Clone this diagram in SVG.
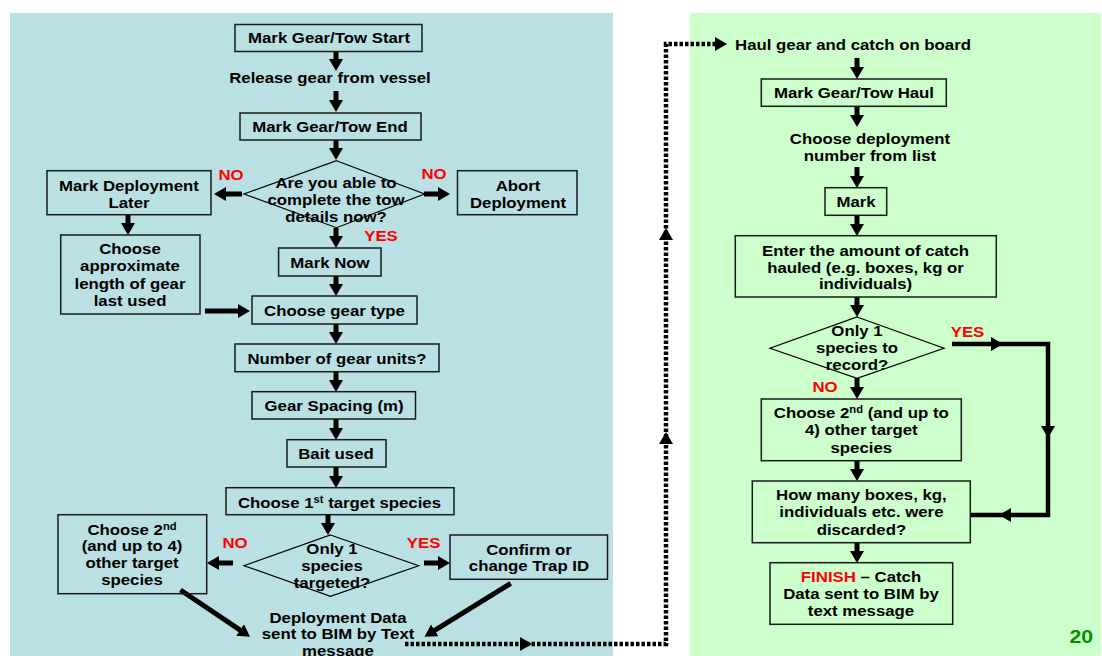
<svg xmlns="http://www.w3.org/2000/svg" xmlns:xlink="http://www.w3.org/1999/xlink" width="1102" height="656" viewBox="0 0 1102 656">
<style>
.t{font-family:"Liberation Sans",Arial,sans-serif;font-weight:bold;font-size:15px;fill:#000;text-anchor:middle}
.r{fill:#ff0000}
.g{fill:#009000;font-size:19px}
.box{fill:none;stroke:#1a1a1a;stroke-width:1.5}
.dia{fill:none;stroke:#000;stroke-width:1.2}
.arr{stroke:#000;stroke-width:5;fill:none;marker-end:url(#ah)}
.loop{stroke:#000;stroke-width:4.5;fill:none}
.dot{stroke:#000;stroke-width:4.5;stroke-dasharray:3.5 2;fill:none}
.sup{font-size:10px}
</style>
<defs>
<marker id="ah" viewBox="0 0 12 14" refX="1" refY="7" markerWidth="12" markerHeight="14" markerUnits="userSpaceOnUse" orient="auto"><path d="M0,0 L12,7 L0,14 z" fill="#000"/></marker>
<path id="hd" d="M-12,-7 L0,0 L-12,7 z" fill="#000"/>
</defs>
<rect width="1102" height="656" fill="#ffffff"/>
<rect id="panel-left" x="10" y="13" width="603" height="643" fill="#bae0e4"/>
<rect id="panel-right" x="690" y="13" width="411" height="643" fill="#ccffcc"/>

<g id="connectors">
<path class="arr" d="M336,51 V60"/>
<path class="arr" d="M336,91 V101"/>
<path class="arr" d="M336,140 V149"/>
<path class="arr" d="M336,228 V237"/>
<path class="arr" d="M336,276 V285"/>
<path class="arr" d="M336,324 V333"/>
<path class="arr" d="M336,372 V381"/>
<path class="arr" d="M336,419 V429"/>
<path class="arr" d="M336,467 V477"/>
<path class="arr" d="M328,515 V524"/>
<path class="arr" d="M242,194 H225"/>
<path class="arr" d="M424,194 H439"/>
<path class="arr" d="M128,215 V224"/>
<path class="arr" d="M205,311 H239"/>
<path class="arr" d="M233,563 H218"/>
<path class="arr" d="M424,563 H439"/>
<path class="arr" d="M180.5,590 L240.9,630.6"/>
<path class="arr" d="M510.7,583.3 L433.9,630.9"/>
<path class="arr" d="M857,58 V68"/>
<path class="arr" d="M857,106 V116"/>
<path class="arr" d="M857,167 V177"/>
<path class="arr" d="M857,215 V225"/>
<path class="arr" d="M857,297 V306"/>
<path class="arr" d="M857,378 V388"/>
<path class="arr" d="M857,461 V470"/>
<path class="arr" d="M857,543 V552"/>
<path class="loop" d="M952,344 H1048 V515 H971"/>
<use xlink:href="#hd" transform="translate(1003,344)"/>
<use xlink:href="#hd" transform="translate(1048,438) rotate(90)"/>
<use xlink:href="#hd" transform="translate(999,515) rotate(180)"/>
<path class="dot" d="M405,644 H666 V44 H716"/>
<use xlink:href="#hd" transform="translate(532,644)"/>
<use xlink:href="#hd" transform="translate(666,432) rotate(-90)"/>
<use xlink:href="#hd" transform="translate(666,228) rotate(-90)"/>
<use xlink:href="#hd" transform="translate(727,44)"/>
</g>

<g id="n-start"><rect class="box" x="235" y="24.5" width="187" height="27"/><text class="t" transform="translate(329,43) scale(1.12,1)">Mark Gear/Tow Start</text></g>
<g id="n-release"><text class="t" transform="translate(330,83) scale(1.12,1)">Release gear from vessel</text></g>
<g id="n-end"><rect class="box" x="240" y="113" width="181" height="27"/><text class="t" transform="translate(330,132) scale(1.12,1)">Mark Gear/Tow End</text></g>
<g id="n-able"><polygon class="dia" points="336.5,160.7 424.6,194 336.5,227.7 244,194"/><text class="t" transform="translate(336,188) scale(1.12,1)"><tspan x="0">Are you able to</tspan><tspan x="0" dy="17">complete the tow</tspan><tspan x="0" dy="17">details now?</tspan></text></g>
<g id="l-no1"><text class="t r" transform="translate(231,180) scale(1.12,1)">NO</text></g>
<g id="l-no2"><text class="t r" transform="translate(434,179) scale(1.12,1)">NO</text></g>
<g id="l-yes1"><text class="t r" transform="translate(381,241) scale(1.12,1)">YES</text></g>
<g id="n-later"><rect class="box" x="47" y="170.7" width="164" height="44"/><text class="t" transform="translate(129,191) scale(1.12,1)"><tspan x="0">Mark Deployment</tspan><tspan x="0" dy="17">Later</tspan></text></g>
<g id="n-abort"><rect class="box" x="457.5" y="170.7" width="119.5" height="44"/><text class="t" transform="translate(518,191) scale(1.12,1)"><tspan x="0">Abort</tspan><tspan x="0" dy="17">Deployment</tspan></text></g>
<g id="n-now"><rect class="box" x="278.6" y="248" width="102.4" height="28"/><text class="t" transform="translate(330,268) scale(1.12,1)">Mark Now</text></g>
<g id="n-approx"><rect class="box" x="60.7" y="235" width="139.3" height="79"/><text class="t" transform="translate(130,254) scale(1.12,1)"><tspan x="0">Choose</tspan><tspan x="0" dy="17.3">approximate</tspan><tspan x="0" dy="17.3">length of gear</tspan><tspan x="0" dy="17.3">last used</tspan></text></g>
<g id="n-geartype"><rect class="box" x="252" y="296" width="165" height="28"/><text class="t" transform="translate(334.5,316) scale(1.12,1)">Choose gear type</text></g>
<g id="n-units"><rect class="box" x="235" y="344" width="204" height="27.7"/><text class="t" transform="translate(337,364) scale(1.12,1)">Number of gear units?</text></g>
<g id="n-spacing"><rect class="box" x="252" y="391.7" width="163.5" height="27.3"/><text class="t" transform="translate(334,411) scale(1.12,1)">Gear Spacing (m)</text></g>
<g id="n-bait"><rect class="box" x="287" y="439.7" width="99" height="27.3"/><text class="t" transform="translate(336,459) scale(1.12,1)">Bait used</text></g>
<g id="n-first"><rect class="box" x="226" y="487.7" width="228" height="27"/><text class="t" transform="translate(339.5,508) scale(1.12,1)">Choose 1<tspan class="sup" dy="-5">st</tspan><tspan dy="5"> target species</tspan></text></g>
<g id="n-only1"><polygon class="dia" points="330.5,535 418.6,565.7 330.5,596.3 244,565.7"/><text class="t" transform="translate(332,554) scale(1.12,1)"><tspan x="0">Only 1</tspan><tspan x="0" dy="17">species</tspan><tspan x="0" dy="17">targeted?</tspan></text></g>
<g id="l-no3"><text class="t r" transform="translate(235,548) scale(1.12,1)">NO</text></g>
<g id="l-yes2"><text class="t r" transform="translate(423.6,548) scale(1.12,1)">YES</text></g>
<g id="n-second-l"><rect class="box" x="58" y="514.7" width="148.7" height="79"/><text class="t" transform="translate(132,534.5) scale(1.12,1)"><tspan x="0">Choose 2</tspan><tspan class="sup" dy="-5">nd</tspan><tspan x="0" dy="22">(and up to 4)</tspan><tspan x="0" dy="17">other target</tspan><tspan x="0" dy="17">species</tspan></text></g>
<g id="n-confirm"><rect class="box" x="450" y="535" width="157.5" height="44.3"/><text class="t" transform="translate(529,554.5) scale(1.12,1)"><tspan x="0">Confirm or</tspan><tspan x="0" dy="17">change Trap ID</tspan></text></g>
<g id="n-sent"><text class="t" transform="translate(338,622.7) scale(1.12,1)"><tspan x="0">Deployment Data</tspan><tspan x="0" dy="16.8">sent to BIM by Text</tspan><tspan x="0" dy="16.8">message</tspan></text></g>

<g id="n-haul"><text class="t" transform="translate(853,50) scale(1.12,1)">Haul gear and catch on board</text></g>
<g id="n-towhaul"><rect class="box" x="761.3" y="79" width="185" height="27.3"/><text class="t" transform="translate(854,98) scale(1.12,1)">Mark Gear/Tow Haul</text></g>
<g id="n-choosedep"><text class="t" transform="translate(870,143.5) scale(1.12,1)"><tspan x="0">Choose deployment</tspan><tspan x="0" dy="17.2">number from list</tspan></text></g>
<g id="n-mark"><rect class="box" x="825" y="187.7" width="61.7" height="27.6"/><text class="t" transform="translate(856,207) scale(1.12,1)">Mark</text></g>
<g id="n-enter"><rect class="box" x="735.3" y="235.7" width="261" height="61.3"/><text class="t" transform="translate(865.5,255.7) scale(1.12,1)"><tspan x="0">Enter the amount of catch</tspan><tspan x="0" dy="17">hauled (e.g. boxes, kg or</tspan><tspan x="0" dy="16.6">individuals)</tspan></text></g>
<g id="n-only1r"><polygon class="dia" points="857,317 944,348.3 857,378.3 770,348.3"/><text class="t" transform="translate(857,336) scale(1.12,1)"><tspan x="0">Only 1</tspan><tspan x="0" dy="17">species to</tspan><tspan x="0" dy="17">record?</tspan></text></g>
<g id="l-yes3"><text class="t r" transform="translate(967.5,337) scale(1.12,1)">YES</text></g>
<g id="l-no4"><text class="t r" transform="translate(825,391.7) scale(1.12,1)">NO</text></g>
<g id="n-second-r"><rect class="box" x="761.3" y="399" width="200" height="61.7"/><text class="t" transform="translate(861.3,418.3) scale(1.12,1)"><tspan x="0">Choose 2<tspan class="sup" dy="-5">nd</tspan><tspan dy="5"> (and up to</tspan></tspan><tspan x="0" dy="17.2">4) other target</tspan><tspan x="0" dy="17.2">species</tspan></text></g>
<g id="n-discard"><rect class="box" x="752.3" y="481" width="218" height="61.7"/><text class="t" transform="translate(861.4,500) scale(1.12,1)"><tspan x="0">How many boxes, kg,</tspan><tspan x="0" dy="17.5">individuals etc. were</tspan><tspan x="0" dy="17.5">discarded?</tspan></text></g>
<g id="n-finish"><rect class="box" x="770" y="562.7" width="182.7" height="61.6"/><text class="t" transform="translate(861,582.3) scale(1.12,1)"><tspan x="0"><tspan class="r">FINISH</tspan> – Catch</tspan><tspan x="0" dy="17">Data sent to BIM by</tspan><tspan x="0" dy="17">text message</tspan></text></g>
<g id="page-num"><text class="t g" transform="translate(1081.3,642.7) scale(1.12,1)">20</text></g>
</svg>
